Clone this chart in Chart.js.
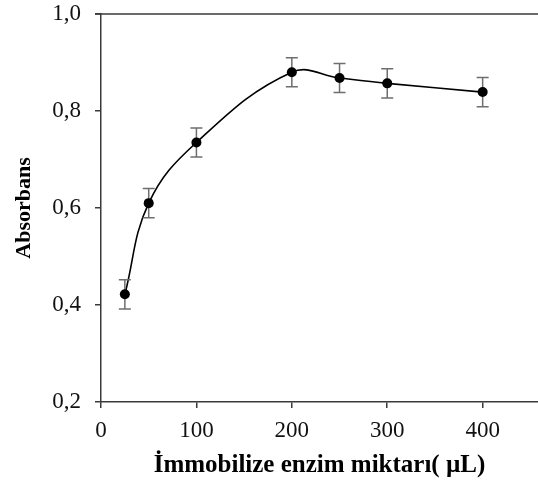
<!DOCTYPE html>
<html lang="tr">
<head>
  <meta charset="UTF-8">
  <title>Absorbans - immobilize enzim</title>
  <script src="https://cdn.jsdelivr.net/npm/chart.js"></script>
  <style>
    html, body { margin: 0; padding: 0; background: #fff; }
    #wrap { width: 538px; height: 482px; }
  </style>
</head>
<body>
  <div id="wrap"><canvas id="myChart" width="538" height="482"></canvas></div>
  <script>
    // data
    const enzimMiktari = [25, 50, 100, 200, 250, 300, 400];
    const absorbans = [0.422, 0.610, 0.735, 0.880, 0.868, 0.857, 0.839];
    const hata = [0.030, 0.030, 0.030, 0.030, 0.030, 0.030, 0.030];
    const xTicks = [0, 100, 200, 300, 400];
    const yTicks = [0.2, 0.4, 0.6, 0.8, 1.0];

    const axisColor = '#3a3a3a';
    const serif = "'Liberation Serif', 'Times New Roman', serif";

    // error bars + top frame line
    const errorBars = {
      id: 'errorBars',
      afterDatasetsDraw(chart) {
        const ctx = chart.ctx;
        const xs = chart.scales.x, ys = chart.scales.y;
        ctx.save();
        ctx.strokeStyle = '#6e6e6e';
        ctx.lineWidth = 1.5;
        enzimMiktari.forEach((v, i) => {
          const px = xs.getPixelForValue(v);
          const top = ys.getPixelForValue(absorbans[i] + hata[i]);
          const bot = ys.getPixelForValue(absorbans[i] - hata[i]);
          ctx.beginPath();
          ctx.moveTo(px, top); ctx.lineTo(px, bot);
          ctx.moveTo(px - 6, top); ctx.lineTo(px + 6, top);
          ctx.moveTo(px - 6, bot); ctx.lineTo(px + 6, bot);
          ctx.stroke();
        });
        // points drawn again on top of the bars
        ctx.fillStyle = '#000';
        enzimMiktari.forEach((v, i) => {
          ctx.beginPath();
          ctx.arc(xs.getPixelForValue(v), ys.getPixelForValue(absorbans[i]), 5, 0, Math.PI * 2);
          ctx.fill();
        });
        const a = chart.chartArea;
        ctx.strokeStyle = axisColor;
        ctx.lineWidth = 1.5;
        ctx.beginPath();
        ctx.moveTo(a.left - 6, a.top);
        ctx.lineTo(a.right, a.top);
        ctx.stroke();
        ctx.restore();
      }
    };

    new Chart(document.getElementById('myChart'), {
      type: 'line',
      data: {
        datasets: [{
          data: enzimMiktari.map((x, i) => ({ x: x, y: absorbans[i] })),
          borderColor: '#000',
          borderWidth: 1.6,
          tension: 0.4,
          pointRadius: 0,
          fill: false
        }]
      },
      options: {
        responsive: false,
        animation: false,
        layout: { padding: { top: 14, right: 0, left: 0, bottom: 0 } },
        plugins: { legend: { display: false }, tooltip: { enabled: false } },
        scales: {
          x: {
            type: 'linear',
            min: 0,
            max: 458,
            afterBuildTicks: s => { s.ticks = xTicks.map(v => ({ value: v })); },
            afterFit: s => { s.height = 80; s.paddingRight = 0; },
            grid: { drawOnChartArea: false, drawTicks: true, tickLength: 6, color: axisColor, lineWidth: 1.5 },
            border: { color: axisColor, width: 1.5 },
            ticks: { color: '#111', font: { family: serif, size: 23 }, padding: 9, maxRotation: 0 },
            title: {
              display: true,
              text: 'İmmobilize enzim miktarı( µL)',
              color: '#000',
              font: { family: serif, size: 25, weight: 'bold' },
              padding: { top: 2, bottom: 1 }
            }
          },
          y: {
            min: 0.2,
            max: 1.0,
            afterBuildTicks: s => { s.ticks = yTicks.map(v => ({ value: v })); },
            afterFit: s => { s.width = 101; s.paddingTop = 0; s.paddingBottom = 0; },
            grid: { drawOnChartArea: false, drawTicks: true, tickLength: 6, color: axisColor, lineWidth: 1.5 },
            border: { color: axisColor, width: 1.5 },
            ticks: {
              color: '#111',
              font: { family: serif, size: 23 },
              padding: 14,
              callback: v => v.toFixed(1).replace('.', ',')
            },
            title: {
              display: true,
              text: 'Absorbans',
              color: '#000',
              font: { family: serif, size: 22, weight: 'bold' },
              padding: { top: 11, bottom: 0 }
            }
          }
        }
      },
      plugins: [errorBars]
    });
  </script>
</body>
</html>
